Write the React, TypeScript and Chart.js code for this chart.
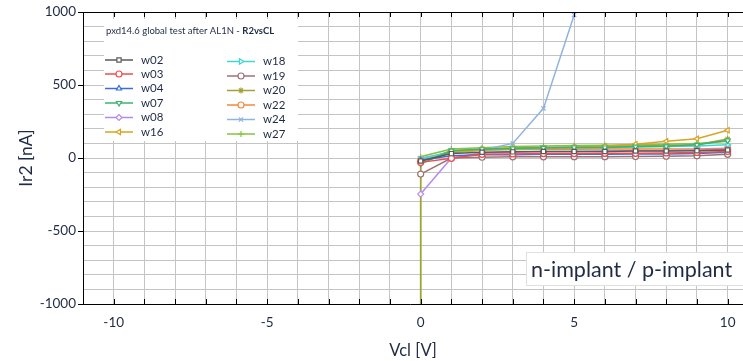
import React, { useEffect, useRef } from 'react';
import { Chart, registerables } from 'chart.js';
import { drawPoint } from 'chart.js/helpers';

Chart.register(...registerables);

// ---- data ----
const vcl = [0, 1, 2, 3, 4, 5, 6, 7, 8, 9, 10];
const w02 = [-20, 30, 40, 42, 45, 45, 45, 48, 48, 50, 55];
const w03 = [-30, -2, 25, 28, 30, 30, 32, 32, 35, 38, 45];
const w04 = [-15, 15, 22, 22, 25, 25, 25, 27, 28, 30, 40];
const w07 = [-40, 50, 60, 65, 70, 72, 72, 78, 80, 90, 120];
const w08 = [-247, 0, 35, 40, 45, 45, 48, 50, 50, 55, 60];
const w16 = [-25, 40, 55, 62, 68, 72, 80, 95, 115, 132, 190];
const w18 = [-10, 45, 55, 60, 65, 68, 70, 75, 78, 82, 90];
const w19 = [-110, 0, 5, 8, 8, 9, 9, 10, 12, 15, 25];
const w20 = [-20, 50, 60, 68, 72, 75, 78, 82, 85, 90, 130];
const w22 = [-15, 40, 55, 58, 60, 60, 62, 62, 62, 62, 66];
const w24 = [0, 40, 55, 100, 340, 980];
const w27 = [9, 62, 70, 78, 82, 85, 88, 90, 95, 100, 115];
// off-scale reading at Vcl = 0 before the sweep (series that drop out of range)
const dropValue = -2500;
const dropSeries = ['w20', 'w27'];

const xLabelTicks = [-10, -5, 0, 5, 10];
const yLabelTicks = [-1000, -500, 0, 500, 1000];

const chartTitle = 'pxd14.6 global test after AL1N - ';
const chartTitleBold = 'R2vsCL';
const boxLabel = 'n-implant / p-implant';
const xTitle = 'Vcl [V]';
const yTitle = 'Ir2 [nA]';

const FONT = 'Lato, "Open Sans", sans-serif';
const TEXT = '#1f2a44';

type S = { name: string; values: number[]; color: string; style: string; rot: number };
const series: S[] = [
  { name: 'w02', values: w02, color: '#5a5a5a', style: 'rect', rot: 0 },
  { name: 'w03', values: w03, color: '#f04c4c', style: 'circle', rot: 0 },
  { name: 'w04', values: w04, color: '#3a6fd8', style: 'triangle', rot: 0 },
  { name: 'w07', values: w07, color: '#3cb371', style: 'triangle', rot: 180 },
  { name: 'w08', values: w08, color: '#b48af0', style: 'rectRot', rot: 0 },
  { name: 'w16', values: w16, color: '#d9a520', style: 'triangle', rot: -90 },
  { name: 'w18', values: w18, color: '#3fd6d6', style: 'triangle', rot: 90 },
  { name: 'w19', values: w19, color: '#9c7272', style: 'circle', rot: 0 },
  { name: 'w20', values: w20, color: '#a2a233', style: 'star', rot: 0 },
  { name: 'w22', values: w22, color: '#f5883a', style: 'circle', rot: 0 },
  { name: 'w24', values: w24, color: '#8fb4e0', style: 'crossRot', rot: 0 },
  { name: 'w27', values: w27, color: '#84c441', style: 'cross', rot: 0 },
];

const overlayPlugin = {
  id: 'overlay',
  afterDraw(chart: any) {
    const ctx: CanvasRenderingContext2D = chart.ctx;
    const a = chart.chartArea;
    const xs = chart.scales.x;
    const ys = chart.scales.y;
    ctx.save();
    // axes frame
    ctx.strokeStyle = '#000';
    ctx.lineWidth = 1;
    ctx.beginPath();
    ctx.moveTo(a.left + 0.5, a.top);
    ctx.lineTo(a.left + 0.5, a.bottom);
    ctx.moveTo(a.left, a.top + 0.5);
    ctx.lineTo(a.right, a.top + 0.5);
    ctx.moveTo(a.left - 5, a.bottom + 0.5);
    ctx.lineTo(a.right, a.bottom + 0.5);
    for (let v = -10; v <= 10; v++) {
      const px = Math.round(xs.getPixelForValue(v)) + 0.5;
      ctx.moveTo(px, a.bottom);
      ctx.lineTo(px, a.bottom - 5);
      ctx.moveTo(px, a.top);
      ctx.lineTo(px, a.top + 5);
    }
    for (const v of yLabelTicks) {
      const py = Math.round(ys.getPixelForValue(v)) + 0.5;
      ctx.moveTo(a.left - 5, py);
      ctx.lineTo(a.left, py);
    }
    ctx.stroke();

    // legend box
    const bx = 104, by = 19, bw = 194, bh = 122;
    ctx.fillStyle = '#fff';
    ctx.fillRect(bx, by, bw, bh);
    ctx.fillStyle = TEXT;
    ctx.textBaseline = 'middle';
    ctx.textAlign = 'left';
    ctx.font = `9.5px ${FONT}`;
    ctx.fillText(chartTitle, 106, 31);
    const tw = ctx.measureText(chartTitle).width;
    ctx.font = `bold 9.5px ${FONT}`;
    ctx.fillText(chartTitleBold, 106 + tw, 31);

    const col1Y = [60, 74, 88.5, 103, 117.5, 132];
    const col2Y = [61.5, 76, 90.5, 105, 119.5, 134];
    series.forEach((s, i) => {
      const col = i < 6 ? 0 : 1;
      const y = col === 0 ? col1Y[i] : col2Y[i - 6];
      const x1 = col === 0 ? 105 : 227;
      const x2 = x1 + 28;
      ctx.strokeStyle = s.color;
      ctx.lineWidth = 1.5;
      ctx.beginPath();
      ctx.moveTo(x1, y);
      ctx.lineTo(x2, y);
      ctx.stroke();
      ctx.fillStyle = '#fff';
      ctx.strokeStyle = s.color;
      ctx.lineWidth = 1.2;
      drawPoint(ctx, { pointStyle: s.style as any, rotation: s.rot, radius: 3, borderWidth: 1.2 } as any, (x1 + x2) / 2, y);
      ctx.fillStyle = TEXT;
      ctx.font = `11.5px ${FONT}`;
      ctx.textBaseline = 'middle';
      ctx.fillText(s.name, col === 0 ? 141 : 263, y);
    });

    // n-implant / p-implant label
    ctx.fillStyle = '#fff';
    ctx.fillRect(527, 253, 230, 33);
    ctx.strokeStyle = '#e0e0e0';
    ctx.lineWidth = 1;
    ctx.strokeRect(526.5, 252.5, 240, 33);
    ctx.fillStyle = TEXT;
    ctx.font = `21.5px ${FONT}`;
    ctx.textBaseline = 'middle';
    ctx.fillText(boxLabel, 531, 270);
    ctx.restore();
  },
};

export default function App() {
  const ref = useRef<HTMLCanvasElement>(null);
  useEffect(() => {
    if (!ref.current) return;
    const datasets = series.map((s) => {
      const pts = s.values.map((v, i) => ({ x: vcl[i], y: v }));
      if (dropSeries.includes(s.name)) pts.unshift({ x: vcl[0], y: dropValue });
      return {
        label: s.name,
        data: pts,
        borderColor: s.color,
        backgroundColor: '#fff',
        borderWidth: 1.5,
        pointStyle: s.style as any,
        pointRotation: s.rot,
        pointRadius: 3,
        pointBorderWidth: 1.2,
        pointBackgroundColor: '#fff',
        pointBorderColor: s.color,
        tension: 0,
      };
    });
    const zeroPad = (scale: any) => {
      scale.paddingTop = 0;
      scale.paddingBottom = 0;
      scale.paddingLeft = 0;
      scale.paddingRight = 0;
    };
    const chart = new Chart(ref.current, {
      type: 'line',
      data: { datasets },
      plugins: [overlayPlugin],
      options: {
        animation: false,
        responsive: false,
        devicePixelRatio: 1,
        layout: { autoPadding: false, padding: { top: 12, left: 0, right: 0, bottom: 0 } },
        plugins: { legend: { display: false }, tooltip: { enabled: false } },
        scales: {
          x: {
            type: 'linear',
            min: -11,
            max: 10.5,
            afterBuildTicks: (scale: any) => {
              const t = [];
              for (let v = -11; v <= 10; v++) t.push({ value: v });
              scale.ticks = t;
            },
            afterFit: (scale: any) => {
              scale.height = 57;
              zeroPad(scale);
            },
            ticks: {
              autoSkip: false,
              maxRotation: 0,
              padding: 11,
              color: TEXT,
              font: { family: FONT, size: 13.5 },
              callback: (v: any) => (xLabelTicks.includes(Number(v)) ? String(v) : ''),
            },
            grid: { color: '#c4c4c4', lineWidth: 1, drawTicks: false },
            border: { display: false },
            title: { display: true, text: xTitle, color: TEXT, font: { family: FONT, size: 16.5 }, padding: { top: 12, bottom: 0 } },
          },
          y: {
            type: 'linear',
            min: -1000,
            max: 1000,
            afterBuildTicks: (scale: any) => {
              const t = [];
              for (let v = -1000; v <= 1000; v += 100) t.push({ value: v });
              scale.ticks = t;
            },
            afterFit: (scale: any) => {
              scale.width = 83;
              zeroPad(scale);
            },
            ticks: {
              autoSkip: false,
              padding: 7,
              color: TEXT,
              font: { family: FONT, size: 13.5 },
              callback: (v: any) => (yLabelTicks.includes(Number(v)) ? String(v) : ''),
            },
            grid: { color: '#c4c4c4', lineWidth: 1, drawTicks: false },
            border: { display: false },
            title: { display: true, text: yTitle, color: TEXT, font: { family: FONT, size: 17.5 }, padding: { top: 16, bottom: 0 } },
          },
        },
      },
    });
    return () => chart.destroy();
  }, []);
  return (
    <div style={{ position: 'fixed', left: 0, top: 0, width: 743, height: 361, background: '#fff' }}>
      <canvas ref={ref} width={743} height={361} style={{ width: 743, height: 361, display: 'block' }} />
    </div>
  );
}
